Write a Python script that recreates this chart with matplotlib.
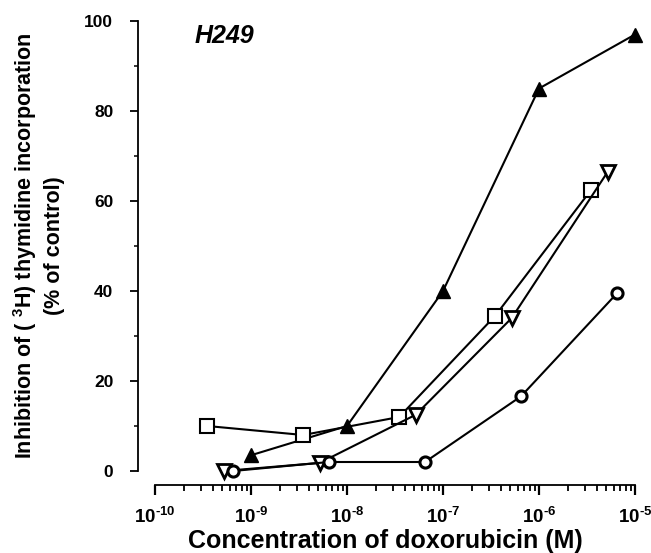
import matplotlib
matplotlib.use('Agg')
import matplotlib.pyplot as plt
from matplotlib.ticker import FixedLocator, FixedFormatter, NullLocator
import numpy as np

plt.rcParams.update({
    'font.family': 'Liberation Sans', 'font.weight': 'bold',
    'mathtext.fontset': 'custom', 'mathtext.rm': 'Liberation Sans:bold',
    'mathtext.bf': 'Liberation Sans:bold', 'mathtext.it': 'Liberation Sans:bold:italic',
    'mathtext.default': 'bf',
})

# data (concentration in M, inhibition in % of control)
tri_x = [1e-9, 1e-8, 1e-7, 1e-6, 1e-5]
tri_y = [3.5, 10, 40, 85, 97]
sq_x = [3.5e-10, 3.5e-9, 3.5e-8, 3.5e-7, 3.5e-6]
sq_y = [10, 8, 12, 34.5, 62.5]
inv_x = [5.2e-10, 5.2e-9, 5.2e-8, 5.2e-7, 5.2e-6]
inv_y = [0, 1.8, 12.5, 34, 66.5]
circ_x = [6.5e-10, 6.5e-9, 6.5e-8, 6.5e-7, 6.5e-6]
circ_y = [0, 2, 2, 16.6, 39.5]

yticks = [0, 20, 40, 60, 80, 100]
xdecades = [-10, -9, -8, -7, -6, -5]
xticklabels = ['$10^{\u201010}$', '$10^{\u20109}$', '$10^{\u20108}$',
               '$10^{\u20107}$', '$10^{\u20106}$', '$10^{\u20105}$']

# all x ticks as one list: decades carry labels, in-between ticks stay blank
xtick_pos, xtick_lab, xtick_is_major = [], [], []
for i, e in enumerate(xdecades):
    xtick_pos.append(10.0**e); xtick_lab.append(xticklabels[i]); xtick_is_major.append(True)
    if e < xdecades[-1]:
        for m in range(2, 10):
            xtick_pos.append(m * 10.0**e); xtick_lab.append(''); xtick_is_major.append(False)

fig = plt.figure(figsize=(6.51, 5.53), dpi=100)
ax = fig.add_axes([155/651, 1-471/553, 480/651, 450/553])
ax.set_xscale('log')
ax.set_xlim(1e-10, 1e-5)
ax.set_ylim(0, 100)

lw = 1.5
ax.plot(tri_x, tri_y, color='black', lw=lw, marker='^', ms=10, mfc='black', mec='black', clip_on=False, zorder=3)
ax.plot(sq_x, sq_y, color='black', lw=lw, marker='s', ms=9.5, mfc='white', mec='black', mew=1.5, clip_on=False, zorder=3)
ax.plot(inv_x, inv_y, color='black', lw=lw, marker='v', ms=9.5, mfc='white', mec='black', mew=2, clip_on=False, zorder=3)
ax.plot(circ_x, circ_y, color='black', lw=lw, marker='o', ms=8, mfc='white', mec='black', mew=2.2, clip_on=False, zorder=3)

for s in ['top', 'right']:
    ax.spines[s].set_visible(False)
ax.spines['left'].set_position(('outward', 12))
ax.spines['bottom'].set_position(('outward', 10))
ax.spines['left'].set_linewidth(1.3)
ax.spines['bottom'].set_linewidth(1.3)

ax.yaxis.set_major_locator(FixedLocator(yticks))
ax.yaxis.set_minor_locator(FixedLocator(list(np.arange(10, 100, 20))))
ax.xaxis.set_major_locator(FixedLocator(xtick_pos))
ax.xaxis.set_major_formatter(FixedFormatter(xtick_lab))
ax.xaxis.set_minor_locator(NullLocator())
ax.tick_params(axis='y', which='major', direction='out', length=6, width=1.3, labelsize=12.5, pad=12)
ax.tick_params(axis='y', which='minor', direction='out', length=3, width=1.1)
ax.tick_params(axis='x', which='major', direction='out', length=7, width=1.6, pad=9, labelsize=13.5)

# shorter marks for the in-between ticks
for tick, major in zip(ax.xaxis.get_major_ticks(len(xtick_pos)), xtick_is_major):
    if not major:
        tick.tick1line.set_markersize(4)
        tick.tick1line.set_markeredgewidth(1.3)

ax.set_xlabel('Concentration of doxorubicin (M)', fontsize=18, fontweight='bold', labelpad=0)
ax.xaxis.set_label_coords(0.48, -0.128)
ax.set_ylabel('Inhibition of ( $^{3}$H) thymidine incorporation\n(% of control)',
              fontsize=15.5, fontweight='bold', labelpad=14, linespacing=1.3)

ax.text(195/651, 1-43/553, 'H249', transform=fig.transFigure, fontsize=18,
        fontweight='bold', fontstyle='italic')

fig.savefig('out.png', dpi=100)
